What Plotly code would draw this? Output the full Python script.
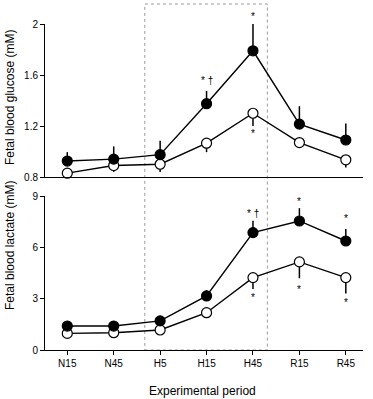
import plotly.graph_objects as go

periods = ["N15", "N45", "H5", "H15", "H45", "R15", "R45"]

glucose_closed = [0.925, 0.94, 0.975, 1.375, 1.79, 1.215, 1.09]
glucose_closed_err = [0.07, 0.10, 0.11, 0.10, 0.21, 0.14, 0.13]
glucose_open = [0.83, 0.89, 0.90, 1.065, 1.30, 1.07, 0.935]
glucose_open_err = [0.06, 0.05, 0.06, 0.07, 0.10, 0.04, 0.06]

lactate_closed = [1.40, 1.40, 1.70, 3.16, 6.86, 7.54, 6.37]
lactate_closed_err = [0.30, 0.30, 0.30, 0.35, 0.70, 0.75, 0.70]
lactate_open = [0.97, 1.01, 1.17, 2.18, 4.23, 5.15, 4.23]
lactate_open_err = [0.20, 0.20, 0.20, 0.20, 0.66, 0.96, 0.93]

glucose_ticks = [0.8, 1.2, 1.6, 2.0]
glucose_ticktext = ["0.8", "1.2", "1.6", "2"]
lactate_ticks = [0, 3, 6, 9]

# significance marks: (category, value, text, axis, pixel shift)
marks = [
    ("H15", 1.56, "* †", "y", 0),
    ("H45", 2.0, "*", "y", 8),
    ("H45", 1.14, "*", "y", 0),
    ("H45", 8.0, "* †", "y2", 0),
    ("R15", 8.65, "*", "y2", 0),
    ("R45", 7.7, "*", "y2", 0),
    ("H45", 3.05, "*", "y2", 0),
    ("R15", 3.55, "*", "y2", 0),
    ("R45", 2.8, "*", "y2", 0),
]

fig = go.Figure()

def add_series(y, err, xa, ya, filled):
    fig.add_trace(go.Scatter(
        x=periods, y=y, xaxis=xa, yaxis=ya, mode="lines+markers",
        line=dict(color="black", width=1.4),
        marker=dict(size=10, color="black" if filled else "white",
                    line=dict(color="black", width=1.2)),
        error_y=dict(type="data", array=err if filled else [0] * len(err),
                     arrayminus=[0] * len(err) if filled else err,
                     symmetric=False, color="black", thickness=1.5, width=0),
        showlegend=False, cliponaxis=False,
    ))

add_series(glucose_open, glucose_open_err, "x", "y", False)
add_series(glucose_closed, glucose_closed_err, "x", "y", True)
add_series(lactate_open, lactate_open_err, "x2", "y2", False)
add_series(lactate_closed, lactate_closed_err, "x2", "y2", True)

font = dict(family="Liberation Sans, Arial, sans-serif", color="black")

W, H = 373, 399
ml, mr, mt, mb = 45, 10, 24, 49
pw, ph = W - ml - mr, H - mt - mb

def px_x(x):
    return (x - ml) / pw

def px_y(y):
    return (H - mb - y) / ph

annotations = []
for cat, val, txt, ax, shift in marks:
    annotations.append(dict(x=cat, y=val, xref="x" if ax == "y" else "x2", yref=ax,
                            text=txt, showarrow=False, yshift=shift,
                            xanchor="center", yanchor="middle",
                            font=dict(size=10, **font)))

for txt, x, y, ang in [("Fetal blood glucose (mM)", 10, 98, -90),
                       ("Fetal blood lactate (mM)", 10, 246, -90),
                       ("Experimental period", 202, 391, 0)]:
    annotations.append(dict(x=px_x(x), y=px_y(y), xref="paper", yref="paper",
                            text=txt, textangle=ang, showarrow=False,
                            xanchor="center", yanchor="middle",
                            font=dict(size=12, **font)))

shapes = [dict(type="rect", xref="x2", yref="paper", x0=1.67, x1=4.31,
               y0=0, y1=px_y(4),
               line=dict(color="#999999", width=1, dash="dot"), layer="below")]

xcommon = dict(type="category", range=[-0.48, 6.37], showgrid=False, zeroline=False,
               showline=True, linecolor="black", linewidth=1)
ycommon = dict(showgrid=False, zeroline=False, showline=True, linecolor="black",
               ticks="outside", ticklen=4, tickcolor="black",
               tickfont=dict(size=10, **font))

fig.update_layout(
    width=W, height=H, margin=dict(l=ml, r=mr, t=mt, b=mb),
    paper_bgcolor="white", plot_bgcolor="white", font=dict(size=10, **font),
    xaxis=dict(**xcommon, anchor="y", showticklabels=False, ticks=""),
    xaxis2=dict(**xcommon, anchor="y2", ticks="outside", ticklen=4, tickcolor="black",
                tickfont=dict(size=10, **font)),
    yaxis=dict(**ycommon, domain=[px_y(177), 1], range=[0.8, 2.0],
               tickvals=glucose_ticks, ticktext=glucose_ticktext, anchor="x"),
    yaxis2=dict(**ycommon, domain=[0, px_y(196)], range=[0, 9],
                tickvals=lactate_ticks, anchor="x2"),
    annotations=annotations, shapes=shapes,
)

fig.write_html("out.html", config={"displayModeBar": False},
               post_script="document.body.style.margin='0';")
